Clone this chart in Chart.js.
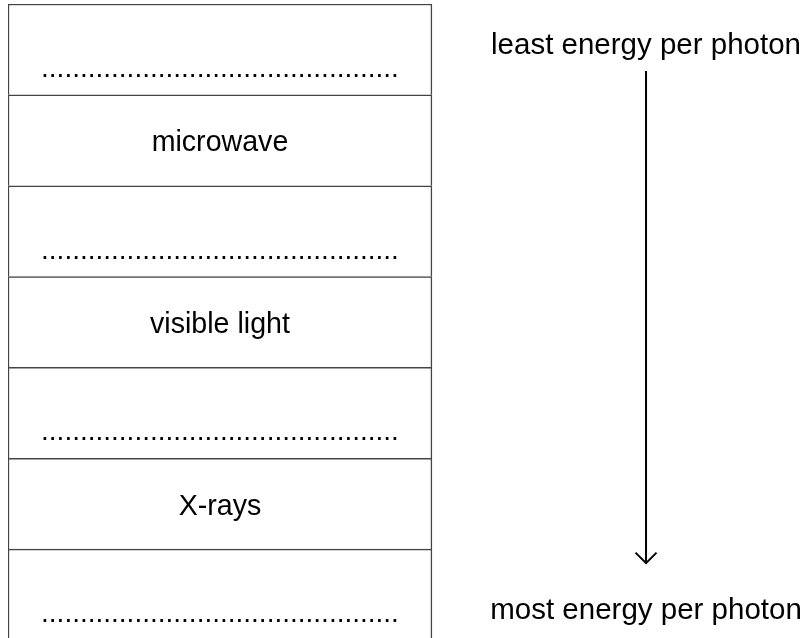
<!DOCTYPE html>
<html><head><meta charset="utf-8">
<script src="https://cdn.jsdelivr.net/npm/chart.js@4/dist/chart.umd.min.js"></script>
<style>html,body{margin:0;padding:0;background:#fff;overflow:hidden}
#wrap{position:relative;width:805px;height:642px}</style>
</head><body><div id="wrap"><canvas id="c"></canvas></div>
<script>
// ---- data ----
const DOTS = ".".repeat(46);
const rowIds = ["r1", "r2", "r3", "r4", "r5", "r6", "r7"];
const rowLabels = [DOTS, "microwave", DOTS, "visible light", DOTS, "X-rays", DOTS];
const rowBlank = [true, false, true, false, true, false, true];
const rowWidth = [1, 1, 1, 1, 1, 1, 1];
const topNote = "least energy per photon";
const bottomNote = "most energy per photon";
const arrowX = 1.505;
const xMax = 1.88;

const FAM = '"Liberation Sans", Arial, sans-serif';

const notesPlugin = {
  id: 'notes',
  afterDatasetsDraw(chart) {
    const ctx = chart.ctx;
    const xs = chart.scales.x, ys = chart.scales.y;
    const n = rowIds.length;
    const rowH = (ys.getPixelForValue(n - 1) - ys.getPixelForValue(0)) / (n - 1);
    const cx = xs.getPixelForValue(rowWidth[0] / 2);
    ctx.save();
    ctx.fillStyle = '#000';
    ctx.textAlign = 'center';
    ctx.textBaseline = 'alphabetic';
    rowLabels.forEach((t, i) => {
      const yc = ys.getPixelForValue(i);
      const top = yc - rowH / 2;
      if (rowBlank[i]) { ctx.font = '28px ' + FAM; ctx.fillText(t, cx, top + 73); }
      else { ctx.font = '28.6px ' + FAM; ctx.fillText(t, cx, yc + 11); }
    });
    const ax = xs.getPixelForValue(arrowX);
    const top0 = ys.getPixelForValue(0) - rowH / 2;
    const topN = ys.getPixelForValue(n - 1) - rowH / 2;
    ctx.font = '29.5px ' + FAM;
    ctx.fillText(topNote, ax, top0 + 50);
    ctx.fillText(bottomNote, ax, topN + 70);
    // arrow
    const y1 = top0 + 67, y2 = topN + 14;
    ctx.strokeStyle = '#000';
    ctx.lineWidth = 2;
    ctx.beginPath();
    ctx.moveTo(ax, y1); ctx.lineTo(ax, y2);
    ctx.stroke();
    ctx.beginPath();
    ctx.moveTo(ax - 10.5, y2 - 10.5); ctx.lineTo(ax, y2); ctx.lineTo(ax + 10.5, y2 - 10.5);
    ctx.stroke();
    ctx.restore();
  }
};

new Chart(document.getElementById('c'), {
  type: 'bar',
  data: {
    labels: rowIds,
    datasets: [{
      data: rowWidth,
      backgroundColor: '#ffffff',
      borderColor: '#444444',
      borderWidth: {top: 1.5, left: 1.5, right: 1.5, bottom: 0},
      borderSkipped: false,
      barPercentage: 1,
      categoryPercentage: 1
    }]
  },
  options: {
    indexAxis: 'y',
    responsive: true,
    maintainAspectRatio: false,
    animation: false,
    layout: {padding: {top: 4, left: 8, right: 0, bottom: 2}},
    plugins: {legend: {display: false}, tooltip: {enabled: false}},
    scales: {
      x: {type: 'linear', min: 0, max: xMax, display: false},
      y: {type: 'category', display: false, offset: true}
    }
  },
  plugins: [notesPlugin]
});
</script></body></html>
